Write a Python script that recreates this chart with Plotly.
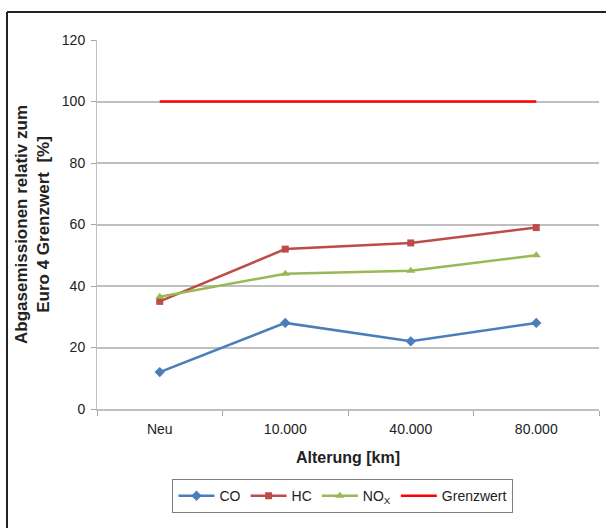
import plotly.graph_objects as go

# Fahrzeugalterung (Kategorien) und Emissionen relativ zum Euro-4-Grenzwert
categories = ["Neu", "10.000", "40.000", "80.000"]
co = [12, 28, 22, 28]
hc = [35, 52, 54, 59]
nox = [36.5, 44, 45, 50]
grenzwert = [100, 100, 100, 100]
y_ticks = [0, 20, 40, 60, 80, 100, 120]

FONT = "Liberation Sans, Arial, sans-serif"

fig = go.Figure()
fig.add_trace(go.Scatter(
    x=categories, y=co, name="CO", mode="lines+markers",
    line=dict(color="#4a7ebb", width=2.5),
    marker=dict(symbol="diamond", size=8, color="#4a7ebb"),
))
fig.add_trace(go.Scatter(
    x=categories, y=hc, name="HC", mode="lines+markers",
    line=dict(color="#be4b48", width=2.5),
    marker=dict(symbol="square", size=7, color="#be4b48"),
))
fig.add_trace(go.Scatter(
    x=categories, y=nox, name="NO<sub>X</sub>", mode="lines+markers",
    line=dict(color="#98b954", width=2.5),
    marker=dict(symbol="triangle-up", size=8, color="#98b954"),
))
fig.add_trace(go.Scatter(
    x=categories, y=grenzwert, name="Grenzwert", mode="lines",
    line=dict(color="#ff0000", width=2.5),
))

fig.update_layout(
    width=606, height=528,
    margin=dict(l=97, r=7, t=40, b=119),
    paper_bgcolor="white", plot_bgcolor="white",
    font=dict(family=FONT, size=14, color="#222222"),
    showlegend=True,
    legend=dict(
        orientation="h", x=0.49, xanchor="center", y=-0.19, yanchor="top",
        bordercolor="#808080", borderwidth=1, bgcolor="white",
        font=dict(size=14), itemwidth=36, traceorder="normal",
    ),
    xaxis=dict(
        type="category", range=[-0.5, 3.5],
        tickson="boundaries", ticks="outside", ticklen=5, tickcolor="#a6a6a6",
        showline=True, linecolor="#bfbfbf", linewidth=1.5,
        showgrid=False, zeroline=False,
        tickfont=dict(size=14), ticklabelstandoff=6,
        title=dict(text="<b>Alterung [km]</b>", font=dict(size=16), standoff=16),
    ),
    yaxis=dict(
        range=[0, 120], tickmode="array", tickvals=y_ticks,
        ticks="outside", ticklen=5, tickcolor="#a6a6a6",
        showline=True, linecolor="#bfbfbf", linewidth=1,
        showgrid=True, gridcolor="#bfbfbf", gridwidth=1.5,
        zeroline=False, tickfont=dict(size=14), ticklabelstandoff=3,
        title=dict(text="<b>Abgasemissionen relativ zum<br>Euro 4 Grenzwert  [%]</b>",
                   font=dict(size=17), standoff=7),
    ),
)

# Rahmen links und oben
fig.add_shape(type="line", xref="paper", yref="paper",
              x0=-0.1793, x1=-0.1793, y0=1.076, y1=-0.33,
              line=dict(color="#222222", width=2))
fig.add_shape(type="line", xref="paper", yref="paper",
              x0=-0.1793, x1=1.02, y0=1.076, y1=1.076,
              line=dict(color="#222222", width=2))

fig.write_html("out.html")
